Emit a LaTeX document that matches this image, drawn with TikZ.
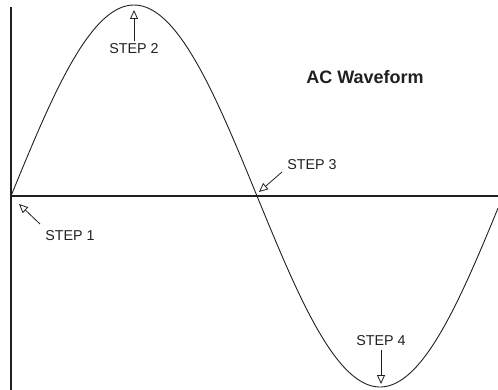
\documentclass[tikz,border=0pt]{standalone}
\usepackage{fontspec}
\setsansfont{Liberation Sans}
\usepackage{tikz}
\usetikzlibrary{arrows.meta, positioning}
\definecolor{wvInk}{HTML}{231F20}

\begin{document}
\begin{tikzpicture}[
  x=1pt, y=-1pt,
  font=\sffamily,
  axis/.style={draw=wvInk, line width=2.4pt},
  wave/.style={draw=wvInk, line width=0.9pt},
  lbl/.style={inner sep=0pt, text=wvInk, font=\sffamily\fontsize{14.3}{16}\selectfont},
  ttl/.style={inner sep=0pt, text=wvInk, font=\sffamily\bfseries\fontsize{18}{20}\selectfont},
  ptr/.style={-{Triangle[open, length=9pt, width=8pt]}, draw=wvInk, line width=0.8pt},
]
\useasboundingbox (0,0) rectangle (498,390);

% axes
\coordinate (vtop) at (11,7);
\coordinate (vbot) at (11,390);
\coordinate (origin) at (11,196);
\coordinate (hend) at (498,196);
\draw[axis] (vtop) -- (vbot);
\draw[axis] (origin) -- (hend);

% waveform
\draw[wave] plot[domain=11:498, samples=160, smooth] (\x, {196-191*sin((\x-11)/246*180)});

% labels
\node[ttl] (title) at (365,77) {AC Waveform};
\node[lbl] (s1) at (70,236) {STEP 1};
\node[lbl] (s2) at (134,49) {STEP 2};
\node[lbl] (s3) at (312,165) {STEP 3};
\node[lbl] (s4) at (381,341) {STEP 4};

% pointers
\coordinate (t1) at (40,224);
\coordinate (h1) at (19,204);
\coordinate (h2) at (134,10);
\coordinate (t3) at (282,172);
\coordinate (h3) at (259,192);
\coordinate (h4) at (381,384);
\draw[ptr] ([yshift=3pt]s2.north) -- (h2);
\draw[ptr] (t1) -- (h1);
\draw[ptr] (t3) -- (h3);
\draw[ptr] ([yshift=-4pt]s4.south) -- (h4);
\end{tikzpicture}
\end{document}
